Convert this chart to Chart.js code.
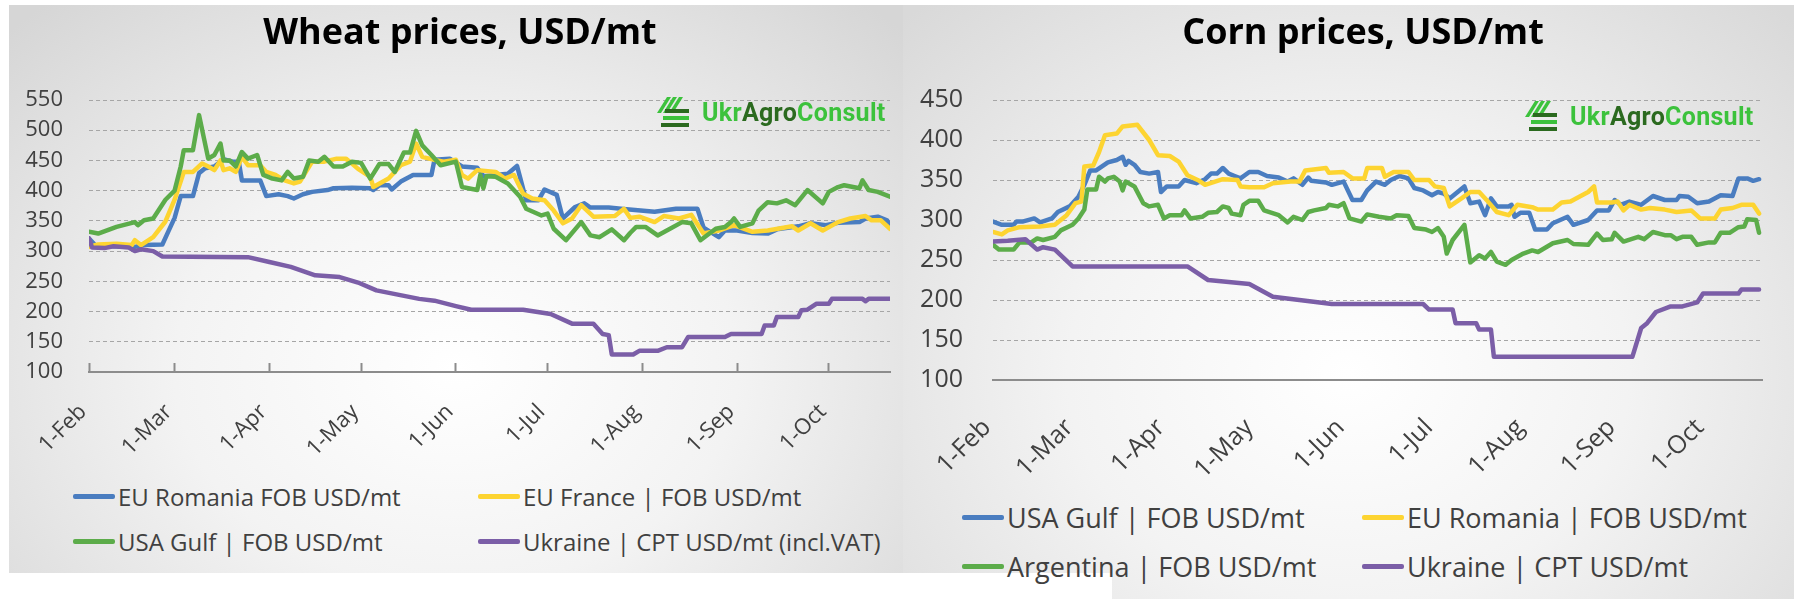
<!DOCTYPE html>
<html lang="en">
<head>
<meta charset="UTF-8">
<title>Wheat and corn prices, USD/mt</title>
<style>
  html, body { margin: 0; padding: 0; background: #fff; overflow: hidden; }
  body { width: 1794px; height: 599px; position: relative; font-family: 'Open Sans', sans-serif; }
  .panel { position: absolute; }
  #wheatPanel {
    left: 9px; top: 5px; width: 894px; height: 568px;
    background: radial-gradient(ellipse 70% 85% at 50% 64%, #ffffff 0%, #f3f3f3 45%, #d6d6d6 100%);
  }
  #cornPanel {
    left: 903px; top: 5px; width: 891px; height: 594px;
    background: radial-gradient(ellipse 70% 85% at 50% 62%, #ffffff 0%, #f3f3f3 45%, #d9d9d9 100%);
  }
  #cornCut { left: 894px; top: 573px; width: 218px; height: 26px; background: #fff; }
  canvas { position: absolute; top: 0; }
  #wheatChart { left: 0; }
  #cornChart { left: 903px; }
  .legend { position: absolute; display: grid; color: #404040; }
  .legend .item { display: flex; align-items: center; white-space: nowrap; }
  .legend .swatch { display: inline-block; width: 42px; height: 5px; margin-right: 3px; border-radius: 2px; }
  #wheatLegend { left: 73px; top: 474px; grid-template-columns: 405px 405px; grid-auto-rows: 45px; font-size: 24px; }
  #cornLegend { left: 962px; top: 493px; grid-template-columns: 400px 400px; grid-auto-rows: 49px; font-size: 27px; }
  .logo { position: absolute; display: flex; align-items: center; font-family: Roboto, sans-serif; font-weight: 700; font-size: 25px; letter-spacing: 0.3px; }
  .logo .g { color: #3cc23c; }
  .logo .d { color: #2b6a1f; }
  .logo svg { margin-right: 11px; }
</style>
</head>
<body>
<div class="panel" id="wheatPanel"></div>
<div class="panel" id="cornPanel"></div>
<div class="panel" id="cornCut"></div>
<canvas id="wheatChart" width="920" height="470"></canvas>
<canvas id="cornChart" width="920" height="480"></canvas>
<div class="legend" id="wheatLegend"></div>
<div class="legend" id="cornLegend"></div>
<div class="logo" style="left:657px; top:97px;">
  <svg width="34" height="30" viewBox="0 0 34 30">
    <polygon points="0,16 10,0 14,0 4,16" fill="#3cc23c"/>
    <polygon points="6,16 16,0 20,0 10,16" fill="#3cc23c"/>
    <polygon points="12,16 22,0 26,0 16,16" fill="#3cc23c"/>
    <rect x="8" y="12" width="24" height="4" fill="#2b6a1f"/>
    <rect x="6" y="19" width="26" height="4" fill="#3cc23c"/>
    <rect x="4" y="26" width="28" height="4" fill="#2b6a1f"/>
  </svg>
  <span><span class="g">Ukr</span><span class="d">Agro</span><span class="g">Consult</span></span>
</div>
<div class="logo" style="left:1525px; top:101px;">
  <svg width="34" height="30" viewBox="0 0 34 30">
    <polygon points="0,16 10,0 14,0 4,16" fill="#3cc23c"/>
    <polygon points="6,16 16,0 20,0 10,16" fill="#3cc23c"/>
    <polygon points="12,16 22,0 26,0 16,16" fill="#3cc23c"/>
    <rect x="8" y="12" width="24" height="4" fill="#2b6a1f"/>
    <rect x="6" y="19" width="26" height="4" fill="#3cc23c"/>
    <rect x="4" y="26" width="28" height="4" fill="#2b6a1f"/>
  </svg>
  <span><span class="g">Ukr</span><span class="d">Agro</span><span class="g">Consult</span></span>
</div>

<script src="https://cdn.jsdelivr.net/npm/chart.js"></script>
<script>
// x values are days since 1 February, y values USD/mt
const monthDays = [0, 28, 59, 89, 120, 150, 181, 212, 242];
const monthLabels = ['1-Feb', '1-Mar', '1-Apr', '1-May', '1-Jun', '1-Jul', '1-Aug', '1-Sep', '1-Oct'];

// wheat
const wheatRomania = [[0,321],[2,310],[8,308],[15,307],[18,310],[24,311],[26,333],[28,355],[30,391],[34,391],[36,429],[38,437],[41,440],[44,452],[47,448],[49,448],[50,417],[56,417],[58,391],[62,394],[65,391],[67,387],[70,394],[73,398],[78,401],[80,404],[86,405],[92,404],[93,401],[95,409],[98,409],[99,402],[102,415],[106,426],[112,426],[113,451],[118,453],[122,440],[127,438],[129,424],[137,428],[140,441],[143,384],[147,384],[149,402],[153,393],[155,354],[159,373],[162,379],[164,372],[170,372],[174,370],[185,365],[192,370],[199,370],[201,339],[206,323],[208,334],[212,334],[217,330],[222,329],[225,336],[232,341],[236,346],[241,343],[245,347],[252,348],[254,354],[258,357],[261,351],[262,343]];
const wheatFrance = [[0,307],[3,311],[9,312],[14,310],[15,318],[17,310],[21,323],[25,349],[28,385],[31,431],[34,431],[37,445],[39,440],[41,434],[43,450],[44,434],[46,437],[48,431],[50,456],[52,442],[56,442],[58,431],[61,426],[64,417],[67,412],[69,415],[73,448],[77,448],[81,453],[84,453],[86,445],[88,436],[92,423],[93,406],[98,420],[102,442],[105,448],[107,478],[109,456],[113,451],[116,448],[120,451],[122,426],[124,420],[127,434],[133,431],[136,420],[139,426],[142,395],[145,387],[149,384],[152,367],[155,346],[158,354],[161,376],[165,357],[172,358],[175,370],[177,355],[180,357],[185,348],[188,358],[193,354],[197,360],[201,329],[206,334],[211,343],[217,332],[222,334],[230,341],[232,334],[236,346],[240,334],[245,348],[249,354],[254,358],[256,351],[259,351],[262,337]];
const wheatGulf = [[0,332],[3,329],[9,340],[15,348],[16,343],[18,351],[21,354],[25,385],[28,400],[30,440],[31,467],[34,467],[36,525],[39,453],[41,459],[43,478],[44,450],[46,450],[48,440],[50,464],[52,453],[55,459],[57,426],[60,420],[63,417],[65,431],[67,420],[70,423],[72,450],[75,448],[77,456],[80,440],[83,440],[86,448],[89,446],[92,420],[95,444],[98,444],[100,431],[103,463],[105,463],[107,499],[109,475],[112,459],[115,442],[120,448],[122,406],[127,401],[128,426],[129,404],[130,424],[133,423],[137,412],[141,390],[143,370],[148,359],[150,362],[152,337],[156,318],[161,348],[164,326],[167,323],[171,336],[175,318],[177,330],[179,340],[182,340],[186,326],[189,334],[194,348],[197,346],[200,318],[205,337],[208,340],[210,348],[211,354],[213,340],[217,346],[219,367],[222,381],[225,379],[228,384],[231,376],[235,401],[240,379],[242,398],[245,406],[247,409],[252,404],[253,417],[255,401],[258,398],[262,390]];
const wheatUkraine = [[0,321],[1,306],[5,305],[8,308],[13,306],[15,300],[17,303],[21,300],[24,291],[52,290],[59,282],[66,274],[74,260],[82,257],[88,248],[94,235],[101,228],[108,221],[113,218],[120,209],[125,203],[142,203],[151,196],[158,180],[165,180],[168,163],[170,161],[171,129],[178,129],[180,135],[186,135],[189,141],[194,141],[196,158],[208,158],[210,163],[220,163],[221,177],[224,177],[225,191],[232,191],[233,202],[235,203],[238,213],[242,213],[243,221],[253,221],[254,217],[255,221],[262,221]];

// corn
const cornGulf = [[0,298],[3,294],[7,294],[8,298],[10,298],[14,302],[16,297],[20,302],[22,310],[26,317],[29,329],[31,344],[33,362],[35,362],[37,367],[39,372],[42,375],[44,379],[45,369],[46,374],[48,369],[50,360],[53,358],[56,360],[57,335],[59,342],[63,342],[65,350],[69,346],[72,351],[74,358],[76,358],[78,365],[80,358],[82,355],[84,352],[87,360],[90,360],[93,355],[97,353],[100,348],[102,352],[105,344],[107,353],[108,349],[113,347],[115,344],[119,348],[122,325],[125,325],[127,337],[130,348],[133,344],[135,350],[138,355],[141,352],[143,340],[146,337],[149,331],[151,335],[153,333],[155,327],[160,342],[162,321],[165,323],[167,306],[169,327],[171,317],[175,317],[176,319],[177,304],[179,309],[182,309],[184,288],[188,288],[190,296],[195,304],[197,294],[202,300],[205,312],[209,312],[211,325],[213,319],[216,323],[220,319],[224,330],[228,325],[232,325],[233,330],[236,329],[239,321],[243,323],[247,331],[251,330],[253,352],[256,352],[258,349],[260,351]];
const cornRomania = [[0,285],[3,282],[5,287],[9,291],[16,292],[21,294],[25,306],[28,321],[30,323],[31,367],[34,368],[36,385],[38,406],[42,408],[44,417],[49,419],[53,400],[56,381],[60,380],[63,373],[66,356],[70,349],[72,344],[78,351],[83,350],[84,342],[87,341],[92,341],[95,346],[101,348],[104,348],[106,362],[113,365],[114,359],[119,360],[122,352],[126,352],[127,365],[132,365],[133,354],[136,360],[141,360],[143,350],[148,350],[150,342],[153,340],[155,317],[159,327],[162,335],[165,335],[168,323],[171,310],[175,306],[178,319],[183,316],[185,313],[190,313],[193,322],[196,323],[202,335],[204,342],[205,322],[210,322],[212,323],[214,312],[216,319],[220,313],[223,315],[228,313],[232,310],[237,312],[240,302],[245,302],[247,313],[251,315],[254,319],[258,319],[260,308]];
const cornArgentina = [[0,269],[2,263],[7,263],[9,272],[13,272],[15,277],[17,275],[21,279],[23,287],[27,294],[29,302],[31,313],[32,338],[35,338],[36,354],[38,348],[39,352],[41,354],[43,348],[44,337],[45,348],[48,342],[51,321],[53,317],[56,319],[58,302],[60,306],[64,306],[65,312],[67,302],[71,304],[73,309],[76,310],[78,317],[80,315],[81,308],[84,306],[85,319],[87,324],[90,324],[92,312],[97,306],[100,297],[102,304],[105,300],[107,310],[109,312],[113,315],[114,319],[117,317],[119,321],[121,302],[125,298],[127,307],[131,304],[135,302],[137,306],[141,305],[143,290],[147,288],[149,285],[151,290],[153,279],[154,258],[156,275],[160,294],[162,247],[165,256],[167,252],[169,260],[171,248],[174,244],[176,250],[180,258],[183,262],[185,260],[190,271],[195,275],[197,270],[202,269],[205,283],[207,275],[210,276],[211,284],[214,273],[219,279],[221,276],[224,285],[228,281],[230,281],[232,276],[234,279],[237,279],[239,269],[243,272],[245,272],[247,284],[250,284],[253,291],[255,292],[256,301],[259,300],[260,284]];
const cornUkraine = [[0,273],[5,274],[11,276],[15,263],[17,266],[21,263],[27,242],[66,242],[73,225],[87,220],[95,204],[115,195],[146,195],[148,188],[156,188],[157,171],[164,171],[165,163],[169,163],[170,129],[217,129],[220,165],[222,171],[225,185],[230,192],[234,192],[239,197],[241,208],[253,208],[254,213],[260,213]];

const BLUE = '#4a7dc0', YELLOW = '#fdd431', GREEN = '#5cac4a', PURPLE = '#7b5ea7';

function series(label, pairs, color, order) {
  return {
    label: label,
    data: pairs.map(p => ({ x: p[0], y: p[1] })),
    borderColor: color,
    backgroundColor: color,
    borderWidth: 4.5,
    pointRadius: 0,
    tension: 0,
    fill: false,
    borderJoinStyle: 'round',
    borderCapStyle: 'round',
    order: order
  };
}

function makeChart(id, cfg) {
  const tickFont = { family: "'Open Sans', sans-serif", size: cfg.tickSize };
  return new Chart(document.getElementById(id), {
    type: 'line',
    data: { datasets: cfg.datasets },
    options: {
      responsive: false,
      animation: false,
      devicePixelRatio: 1,
      layout: { padding: 0 },
      plugins: {
        legend: { display: false },
        tooltip: { enabled: false },
        title: {
          display: true,
          text: cfg.title,
          color: '#000',
          font: { family: "'Open Sans', sans-serif", size: 36, weight: 'bold' },
          padding: { top: 12, bottom: 44.8 }
        }
      },
      scales: {
        x: {
          type: 'linear',
          min: 0,
          max: cfg.lastDay,
          afterBuildTicks: s => { s.ticks = monthDays.map(v => ({ value: v })); },
          afterFit: s => { s.height = cfg.xHeight; },
          ticks: {
            autoSkip: false,
            minRotation: 45,
            maxRotation: 45,
            padding: cfg.xPad,
            labelOffset: cfg.xOffset,
            color: '#404040',
            font: tickFont,
            callback: (v, i) => monthLabels[i]
          },
          grid: { drawOnChartArea: false, drawTicks: cfg.xTicks, tickLength: -9, tickColor: '#8c8c8c', tickWidth: 2 },
          border: { display: true, color: '#8c8c8c', width: 2 }
        },
        y: {
          min: cfg.yMin,
          max: cfg.yMax,
          afterFit: s => { s.width = cfg.yWidth; },
          ticks: { stepSize: 50, padding: cfg.yPad, color: '#404040', font: tickFont },
          grid: { color: '#a6a6a6', lineWidth: 1, drawTicks: false },
          border: { display: false, dash: [4, 3] }
        },
        // empty spacer on the right, keeps the title centred like the original
        spacer: {
          type: 'linear',
          position: 'right',
          afterFit: s => { s.width = cfg.rightSpace; },
          ticks: { display: false },
          grid: { display: false },
          border: { display: false }
        }
      }
    }
  });
}

function htmlLegend(chart, elId) {
  const box = document.getElementById(elId);
  chart.data.datasets.forEach(ds => {
    const item = document.createElement('div');
    item.className = 'item';
    const sw = document.createElement('span');
    sw.className = 'swatch';
    sw.style.background = ds.borderColor;
    item.appendChild(sw);
    item.appendChild(document.createTextNode(ds.label));
    box.appendChild(item);
  });
}

const wheatChart = makeChart('wheatChart', {
  title: 'Wheat prices, USD/mt',
  datasets: [
    series('EU Romania FOB USD/mt', wheatRomania, BLUE, 4),
    series('EU France | FOB USD/mt', wheatFrance, YELLOW, 3),
    series('USA Gulf | FOB USD/mt', wheatGulf, GREEN, 2),
    series('Ukraine | CPT USD/mt (incl.VAT)', wheatUkraine, PURPLE, 1)
  ],
  lastDay: 262, yMin: 100, yMax: 550,
  yWidth: 89, yPad: 26, rightSpace: 30,
  xHeight: 98, xPad: 36, xOffset: -6, xTicks: true, tickSize: 22
});

const cornChart = makeChart('cornChart', {
  title: 'Corn prices, USD/mt',
  datasets: [
    series('USA Gulf | FOB USD/mt', cornGulf, BLUE, 4),
    series('EU Romania | FOB USD/mt', cornRomania, YELLOW, 3),
    series('Argentina | FOB USD/mt', cornArgentina, GREEN, 2),
    series('Ukraine | CPT USD/mt', cornUkraine, PURPLE, 1)
  ],
  lastDay: 261, yMin: 100, yMax: 450,
  yWidth: 90, yPad: 30, rightSpace: 61,
  xHeight: 100, xPad: 33, xOffset: -6, xTicks: false, tickSize: 25
});

htmlLegend(wheatChart, 'wheatLegend');
htmlLegend(cornChart, 'cornLegend');
</script>
</body>
</html>
